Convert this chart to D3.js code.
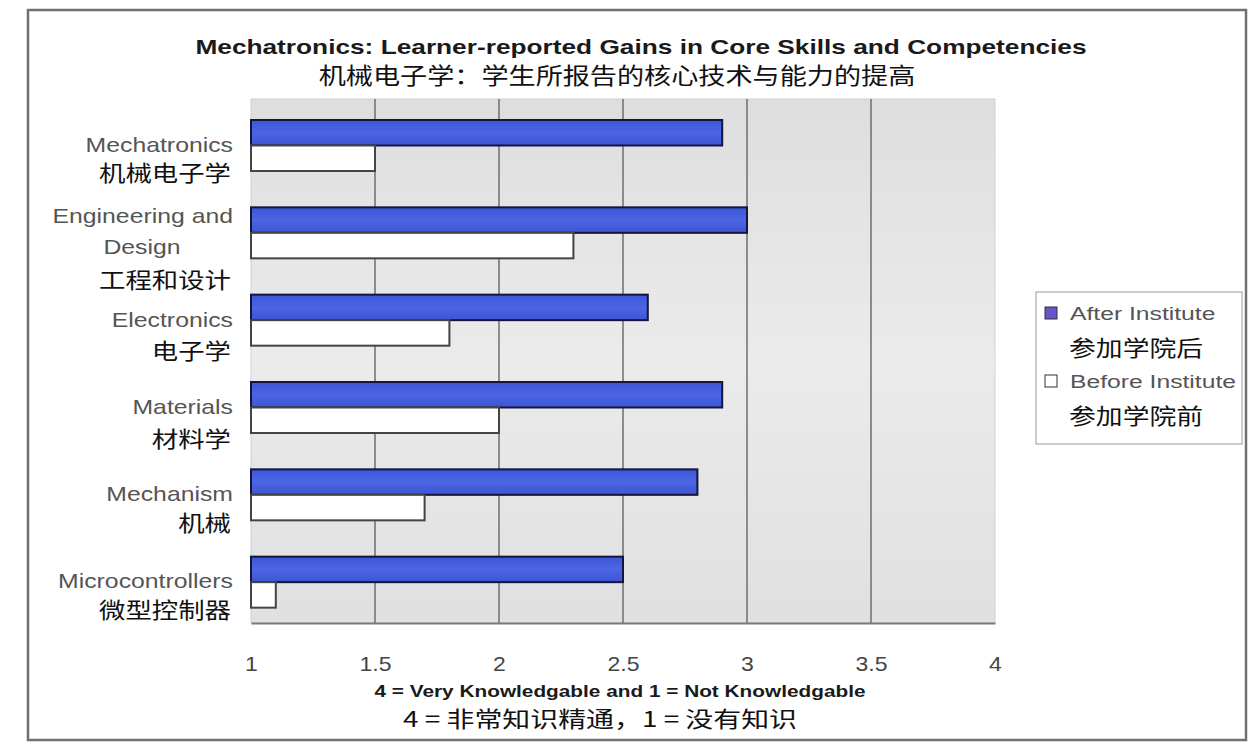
<!DOCTYPE html>
<html>
<head>
<meta charset="utf-8">
<script src="https://cdn.jsdelivr.net/npm/d3@7"></script>
<style>
  body { margin: 0; background: #fff; }
  text { font-family: "Liberation Sans", Arial, sans-serif; }
  .cjk { font-family: "Noto Sans CJK SC", sans-serif; }
</style>
</head>
<body>
<div id="chart"></div>
<script>
// data
var categories = ['Mechatronics', 'Engineering and Design', 'Electronics', 'Materials', 'Mechanism', 'Microcontrollers'];
var categoriesCn = ['机械电子学', '工程和设计', '电子学', '材料学', '机械', '微型控制器'];
var afterValues = [2.9, 3.0, 2.6, 2.9, 2.8, 2.5];
var beforeValues = [1.5, 2.3, 1.8, 2.0, 1.7, 1.1];
var xTicks = [1, 1.5, 2, 2.5, 3, 3.5, 4];
var seriesNames = ['After Institute', 'Before Institute'];
var seriesNamesCn = ['参加学院后', '参加学院前'];

var W = 1249, H = 745;
var margin = {top: 99, left: 251, right: 254, bottom: 122};
var width = W - margin.left - margin.right,
    height = H - margin.top - margin.bottom;

var svg = d3.select("#chart")
  .append("svg")
    .attr("width", W)
    .attr("height", H);

// the source picture is stretched sideways, so text gets a horizontal scale
function label(parent, x, y, txt, size, sx, anchor, cjk) {
  var t = parent.append("text")
    .attr("transform", "translate(" + x + "," + y + ") scale(" + sx + ",1)")
    .attr("text-anchor", anchor || "start")
    .style("font-size", size + "px")
    .text(txt);
  if (cjk) t.attr("class", "cjk").attr("fill", "#111");
  return t;
}

// outer frame
svg.append("rect")
  .attr("x", 28).attr("y", 10)
  .attr("width", 1218).attr("height", 730)
  .attr("fill", "#fff")
  .attr("stroke", "#707070")
  .attr("stroke-width", 2.5);

var g = svg.append("g")
  .attr("transform", "translate(" + margin.left + "," + margin.top + ")");

var x = d3.scaleLinear().domain([1, 4]).range([0, width]);
var y = d3.scaleBand().domain(categories).range([0, height]).padding(0);
var ySub = d3.scaleBand().domain(seriesNames).range([21, 72]).padding(0);

// plot background
var defs = svg.append("defs");
var grad = defs.append("linearGradient")
  .attr("id", "bg").attr("x1", 0).attr("x2", 0).attr("y1", 0).attr("y2", 1);
grad.append("stop").attr("offset", "0%").attr("stop-color", "#dedede");
grad.append("stop").attr("offset", "50%").attr("stop-color", "#ebebeb");
grad.append("stop").attr("offset", "100%").attr("stop-color", "#e0e0e0");

var barGrad = defs.append("linearGradient")
  .attr("id", "bar").attr("x1", 0).attr("x2", 0).attr("y1", 0).attr("y2", 1);
barGrad.append("stop").attr("offset", "0%").attr("stop-color", "#3a56d8");
barGrad.append("stop").attr("offset", "50%").attr("stop-color", "#4d66e2");
barGrad.append("stop").attr("offset", "100%").attr("stop-color", "#3b55d4");

g.append("rect")
  .attr("width", width).attr("height", height)
  .attr("fill", "url(#bg)")
  .attr("stroke", "#cfcfcf");

// gridlines
g.selectAll(".grid")
  .data(xTicks.slice(1, -1))
  .enter().append("line")
  .attr("x1", function(d) { return x(d); })
  .attr("x2", function(d) { return x(d); })
  .attr("y1", 0).attr("y2", height)
  .attr("stroke", "#6e6e6e")
  .attr("stroke-width", 1.5);

// bars
var groups = g.selectAll(".cat")
  .data(categories)
  .enter().append("g")
  .attr("transform", function(d) { return "translate(0," + y(d) + ")"; });

groups.append("rect")
  .attr("x", x(1))
  .attr("y", ySub(seriesNames[0]))
  .attr("width", function(d, i) { return x(afterValues[i]) - x(1); })
  .attr("height", ySub.bandwidth())
  .attr("fill", "url(#bar)")
  .attr("stroke", "#14143c")
  .attr("stroke-width", 2);

groups.append("rect")
  .attr("x", x(1))
  .attr("y", ySub(seriesNames[1]))
  .attr("width", function(d, i) { return x(beforeValues[i]) - x(1); })
  .attr("height", ySub.bandwidth())
  .attr("fill", "#fff")
  .attr("stroke", "#444")
  .attr("stroke-width", 2);

// x axis
var xAxis = g.append("g")
  .attr("transform", "translate(0," + height + ")")
  .call(d3.axisBottom(x).tickValues(xTicks).tickSize(0).tickPadding(34).tickFormat(d3.format("")));
xAxis.select(".domain").attr("stroke", "#7a7a7a").attr("stroke-width", 2);
xAxis.selectAll("text")
  .style("font-size", "20px")
  .attr("fill", "#444")
  .attr("transform", "scale(1.15,1)");

// category labels
var enLines = [['Mechatronics'], ['Engineering and', 'Design'], ['Electronics'], ['Materials'], ['Mechanism'], ['Microcontrollers']];
var enY = [[152], [223, 254], [327], [414], [501], [588]];
var cnY = [181, 288, 359, 447, 531, 618];

categories.forEach(function(c, i) {
  enLines[i].forEach(function(line, j) {
    var t;
    if (line === 'Design') {
      t = label(svg, 142, enY[i][j], line, 20, 1.24, "middle");
    } else {
      t = label(svg, 233, enY[i][j], line, 20, 1.24, "end");
    }
    t.attr("fill", "#555");
  });
  label(svg, 231, cnY[i], categoriesCn[i], 22, 1.2, "end", true);
});

// titles
label(svg, 641, 54, "Mechatronics: Learner-reported Gains in Core Skills and Competencies", 21, 1.25, "middle")
  .style("font-weight", "bold")
  .attr("fill", "#1a1a1a");

label(svg, 617, 84, "机械电子学：学生所报告的核心技术与能力的提高", 23, 1.18, "middle", true);

label(svg, 620, 697, "4 = Very Knowledgable and 1 = Not Knowledgable", 16, 1.3, "middle")
  .style("font-weight", "bold")
  .attr("fill", "#1a1a1a");

label(svg, 600, 727, "4 = 非常知识精通，1 = 没有知识", 22, 1.27, "middle", true);

// legend
var legend = svg.append("g").attr("transform", "translate(1036,292)");
legend.append("rect")
  .attr("width", 206).attr("height", 152)
  .attr("fill", "#fff")
  .attr("stroke", "#999");

var swatchFill = ["#6a52c8", "#fff"];
seriesNames.forEach(function(s, i) {
  var yy = 22 + i * 68;
  legend.append("rect")
    .attr("x", 9).attr("y", yy - 7)
    .attr("width", 12).attr("height", 12)
    .attr("fill", swatchFill[i])
    .attr("stroke", "#333");
  label(legend, 34, yy + 6, s, 19, 1.3, "start").attr("fill", "#555");
  label(legend, 33, yy + 42, seriesNamesCn[i], 22, 1.22, "start", true);
});
</script>
</body>
</html>
